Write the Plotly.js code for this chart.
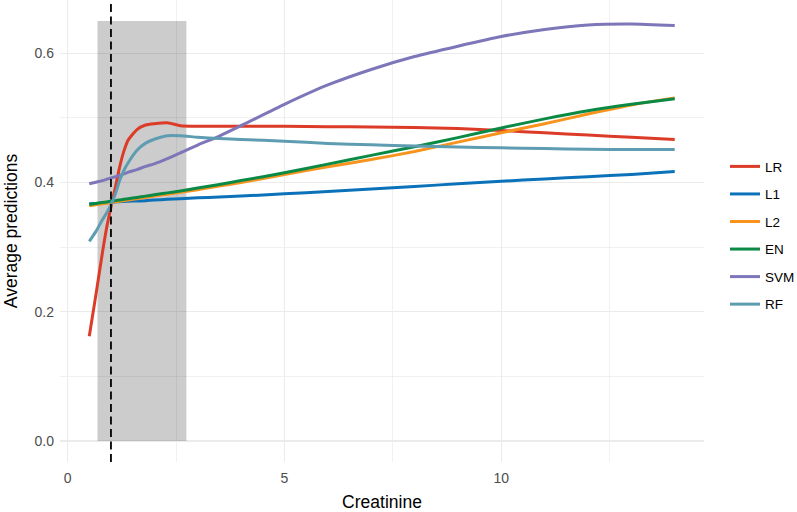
<!DOCTYPE html>
<html>
<head>
<meta charset="utf-8">
<script src="https://cdn.plot.ly/plotly-3.0.1.min.js"></script>
<style>
  html, body { margin: 0; padding: 0; background: #fff; }
  #chart { width: 797px; height: 512px; }
</style>
</head>
<body>
<div id="chart"></div>
<script>
/* ---- Data ---- */
const creatinine = [0.5, 0.65, 0.8, 0.9, 1.0, 1.1, 1.2, 1.3, 1.4, 1.6, 1.8, 2.0, 2.3, 2.6, 3.0, 3.5, 4, 5, 6, 7, 8, 9, 10, 11, 12, 13, 14];

const predLR  = [0.162, 0.225, 0.290, 0.330, 0.362, 0.392, 0.424, 0.449, 0.466, 0.482, 0.489, 0.491, 0.4925, 0.488, 0.487, 0.487, 0.487, 0.487, 0.4865, 0.486, 0.485, 0.4835, 0.4805, 0.477, 0.4735, 0.470, 0.4667];
const predL1  = [0.367, 0.3677, 0.3685, 0.369, 0.3695, 0.370, 0.3703, 0.3707, 0.371, 0.3715, 0.372, 0.373, 0.374, 0.375, 0.3765, 0.3775, 0.379, 0.3825, 0.386, 0.390, 0.394, 0.398, 0.402, 0.4055, 0.409, 0.4125, 0.417];
const predL2  = [0.364, 0.3655, 0.367, 0.368, 0.369, 0.370, 0.371, 0.372, 0.373, 0.375, 0.377, 0.379, 0.382, 0.385, 0.389, 0.3945, 0.400, 0.4125, 0.4245, 0.4355, 0.448, 0.4625, 0.477, 0.491, 0.506, 0.520, 0.531];
const predEN  = [0.366, 0.3675, 0.369, 0.370, 0.371, 0.372, 0.373, 0.374, 0.375, 0.377, 0.379, 0.381, 0.384, 0.387, 0.3915, 0.397, 0.403, 0.415, 0.4285, 0.442, 0.4555, 0.4695, 0.4845, 0.4985, 0.511, 0.521, 0.5296];
const predSVM = [0.398, 0.4005, 0.403, 0.405, 0.407, 0.409, 0.411, 0.4135, 0.416, 0.420, 0.425, 0.429, 0.437, 0.446, 0.458, 0.472, 0.488, 0.521, 0.551, 0.575, 0.595, 0.611, 0.626, 0.637, 0.644, 0.6455, 0.643];
const predRF  = [0.309, 0.324, 0.342, 0.353, 0.366, 0.382, 0.403, 0.419, 0.431, 0.450, 0.461, 0.467, 0.4725, 0.4725, 0.470, 0.468, 0.4665, 0.464, 0.4605, 0.4585, 0.4565, 0.455, 0.4538, 0.4525, 0.4515, 0.451, 0.451];

const modelNames = ['LR', 'L1', 'L2', 'EN', 'SVM', 'RF'];
const shadeX = [0.69, 2.74];   // shaded creatinine interval
const shadeY = [0, 0.65];
const refLineX = 1.0;          // dashed reference line

const xTicks = [0, 5, 10];
const yTicks = [0, 0.2, 0.4, 0.6];

/* ---- Styling ---- */
const COLORS = {
  LR: '#DC3B27', L1: '#0B72BA', L2: '#F8941E', EN: '#0B8A46', SVM: '#7D76B8', RF: '#5E9DB1',
};
const FONT = 'Liberation Sans, Arial, Helvetica, sans-serif';
const GRID = '#EBEBEB';

const series = [predLR, predL1, predL2, predEN, predSVM, predRF];
const traces = modelNames.map((name, i) => ({
  x: creatinine,
  y: series[i],
  type: 'scatter',
  mode: 'lines',
  name: name,
  legendgroup: name,
  line: { color: COLORS[name], width: 3, shape: 'spline', smoothing: 0.6 },
  hoverinfo: 'skip',
}));

const layout = {
  width: 797, height: 512,
  paper_bgcolor: '#fff', plot_bgcolor: '#fff',
  font: { family: FONT, size: 14, color: '#000' },
  margin: { l: 60, r: 93, t: 0, b: 50, autoexpand: false },
  showlegend: true,
  legend: {
    x: 1.0326, xanchor: 'left', y: 0.49, yanchor: 'middle',
    font: { family: FONT, size: 13.5, color: '#000' },
    tracegroupgap: 7, bgcolor: 'rgba(0,0,0,0)',
  },
  xaxis: {
    range: [-0.175, 14.675],
    tickvals: xTicks, ticktext: xTicks.map(String),
    showgrid: true, gridcolor: GRID, gridwidth: 1.2,
    minor: { tick0: 0, dtick: 2.5, showgrid: true, gridcolor: GRID, gridwidth: 0.7 },
    zeroline: false, showline: false, ticks: '', ticklabelstandoff: 6,
    tickfont: { family: FONT, size: 14, color: '#4D4D4D' },
    title: { text: 'Creatinine', font: { family: FONT, size: 17.5, color: '#000' }, standoff: 18 },
  },
  yaxis: {
    range: [-0.0325, 0.6825],
    tickvals: yTicks, ticktext: yTicks.map(v => v.toFixed(1)),
    showgrid: true, gridcolor: GRID, gridwidth: 1.2,
    minor: { tick0: 0, dtick: 0.1, showgrid: true, gridcolor: GRID, gridwidth: 0.7 },
    zeroline: false, showline: false, ticks: '', ticklabelstandoff: 5,
    tickfont: { family: FONT, size: 14, color: '#4D4D4D' },
    title: { text: 'Average predictions', font: { family: FONT, size: 17.5, color: '#000' }, standoff: 12 },
  },
  shapes: [
    {
      type: 'rect', xref: 'x', yref: 'y',
      x0: shadeX[0], x1: shadeX[1], y0: shadeY[0], y1: shadeY[1],
      fillcolor: 'rgba(0,0,0,0.2)', line: { width: 0 }, layer: 'between',
    },
    {
      type: 'line', xref: 'x', yref: 'paper',
      x0: refLineX, x1: refLineX, y0: 0, y1: 1,
      line: { color: '#000', width: 1.8, dash: '8px,4.5px' }, layer: 'above',
    },
  ],
};

Plotly.newPlot('chart', traces, layout, { displayModeBar: false, staticPlot: true });
</script>
</body>
</html>
